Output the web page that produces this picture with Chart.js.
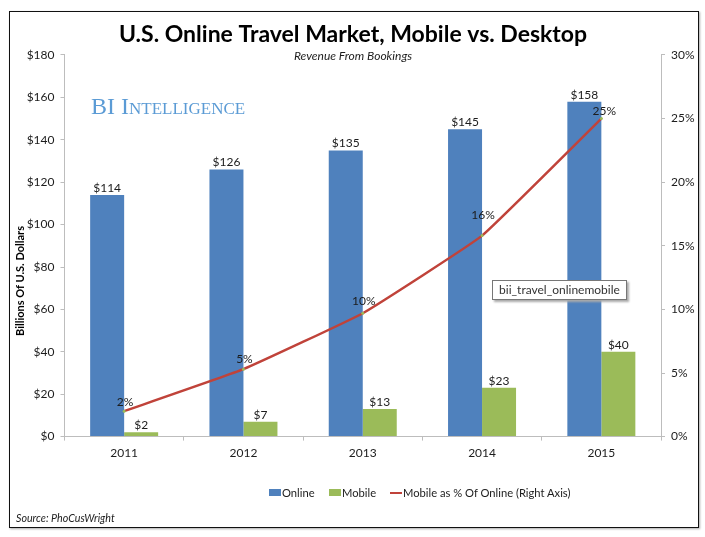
<!DOCTYPE html>
<html>
<head>
<meta charset="utf-8">
<style>
html, body { margin: 0; padding: 0; background: #fff; }
#wrap { position: relative; width: 705px; height: 537px; overflow: hidden; }
#frame { position: absolute; left: 9px; top: 11px; width: 688px; height: 515px; border: 1.5px solid #111; box-shadow: 1px 1px 2px #aaa; }
#brand { position: absolute; left: 91px; top: 93px; font: 24px "Liberation Serif", serif; font-variant: small-caps; color: #5b9bd5; }
#note { position: absolute; left: 492px; top: 280px; width: 133px; height: 18px; text-align: center; background: #fff; border: 1px solid #777; box-shadow: 2px 2px 2px #aaa; font: 12px/18px Lato, sans-serif; color: #333; }
#source { position: absolute; left: 16px; top: 511px; font: italic 10.7px Lato, sans-serif; color: #222; }
#ytitle { position: absolute; left: -36px; top: 274px; width: 112px; text-align: center; transform: rotate(-90deg); font: bold 11px/14px Lato, sans-serif; color: #000; white-space: nowrap; }
.key { position: absolute; top: 486px; font: 11.2px/14px Lato, sans-serif; color: #1c1c1c; white-space: nowrap; }
.key i { position: absolute; left: -13px; display: block; width: 12px; }
canvas { position: absolute; left: 0; top: 0; }
</style>
<script src="https://cdn.jsdelivr.net/npm/chart.js@4/dist/chart.umd.min.js"></script>
</head>
<body>
<div id="wrap">
  <div id="frame"></div>
  <canvas id="chart" width="705" height="537"></canvas>
  <div id="brand">BI Intelligence</div>
  <div id="note">bii_travel_onlinemobile</div>
  <div id="ytitle">Billions Of U.S. Dollars</div>
  <div class="key" style="left:282px"><i style="top:3px;height:7px;background:#4f81bd"></i>Online</div>
  <div class="key" style="left:342px"><i style="top:3px;height:7px;background:#9bbb59"></i>Mobile</div>
  <div class="key" style="left:403px"><i style="top:6px;height:2px;background:#c0433a"></i>Mobile as % Of Online (Right Axis)</div>
  <div id="source">Source: PhoCusWright</div>
</div>
<script>
const years = ['2011', '2012', '2013', '2014', '2015'];
const online = [114, 126, 135, 145, 158];
const mobile = [2, 7, 13, 23, 40];
const mobileShare = [2, 5.3, 9.7, 15.8, 25];
const shareLabels = ['2%', '5%', '10%', '16%', '25%'];

const textColor = '#1c1c1c';
const axisColor = '#bdbdbd';

// value labels above the bars and next to the line points
const valueLabels = {
    id: 'valueLabels',
    afterDatasetsDraw(chart) {
        const ctx = chart.ctx;
        ctx.save();
        ctx.font = '12px Lato, sans-serif';
        ctx.fillStyle = textColor;
        ctx.textAlign = 'center';
        ctx.textBaseline = 'bottom';
        [1, 2].forEach(i => {
            chart.getDatasetMeta(i).data.forEach((bar, j) => {
                ctx.fillText('$' + chart.data.datasets[i].data[j], bar.x, bar.y - 1);
            });
        });
        const lift = [3, 4, 6, 14, 1];
        chart.getDatasetMeta(0).data.forEach((pt, j) => {
            ctx.fillText(shareLabels[j], pt.x + (j === 4 ? 3 : 1), pt.y - lift[j]);
        });
        ctx.restore();
    }
};

new Chart(document.getElementById('chart'), {
    type: 'bar',
    data: {
        labels: years,
        datasets: [
            {
                type: 'line',
                label: 'Mobile as % Of Online (Right Axis)',
                data: mobileShare,
                yAxisID: 'y2',
                borderColor: '#c0433a',
                backgroundColor: '#9bbb59',
                borderWidth: 2.5,
                pointRadius: 1.5,
                pointBorderWidth: 0,
                tension: 0.1,
                order: 0
            },
            { label: 'Online', data: online, backgroundColor: '#4f81bd', order: 1 },
            { label: 'Mobile', data: mobile, backgroundColor: '#9bbb59', order: 1 }
        ]
    },
    plugins: [valueLabels],
    options: {
        responsive: false,
        animation: false,
        layout: { padding: { left: 10, right: 9, top: 0, bottom: 72 } },
        datasets: { bar: { categoryPercentage: 0.57, barPercentage: 1 } },
        plugins: {
            title: {
                display: true,
                text: 'U.S. Online Travel Market, Mobile vs. Desktop',
                color: '#000',
                font: { family: 'Lato, sans-serif', size: 23, weight: 'bold' },
                padding: { top: 21, bottom: 0 }
            },
            subtitle: {
                display: true,
                text: 'Revenue From Bookings',
                color: textColor,
                font: { family: 'Lato, sans-serif', size: 12, style: 'italic' },
                padding: { top: 0, bottom: -8 }
            },
            legend: { display: false },
            tooltip: { enabled: false }
        },
        scales: {
            x: {
                grid: { drawOnChartArea: false, color: axisColor, tickLength: 4 },
                border: { color: axisColor },
                ticks: { color: textColor, font: { family: 'Lato, sans-serif', size: 12 }, padding: 5 }
            },
            y: {
                min: 0,
                max: 180,
                afterFit: s => { s.width = 54.5; },
                grid: { drawOnChartArea: false, color: axisColor, tickLength: 4 },
                border: { color: axisColor },
                ticks: { stepSize: 20, color: textColor, font: { family: 'Lato, sans-serif', size: 12 }, padding: 6, callback: v => '$' + v }
            },
            y2: {
                position: 'right',
                min: 0,
                max: 30,
                afterFit: s => { s.width = 35; },
                grid: { drawOnChartArea: false, color: axisColor, tickLength: 4 },
                border: { color: axisColor },
                ticks: { stepSize: 5, color: textColor, font: { family: 'Lato, sans-serif', size: 12 }, padding: 6, callback: v => v + '%' }
            }
        }
    }
});
</script>
</body>
</html>
